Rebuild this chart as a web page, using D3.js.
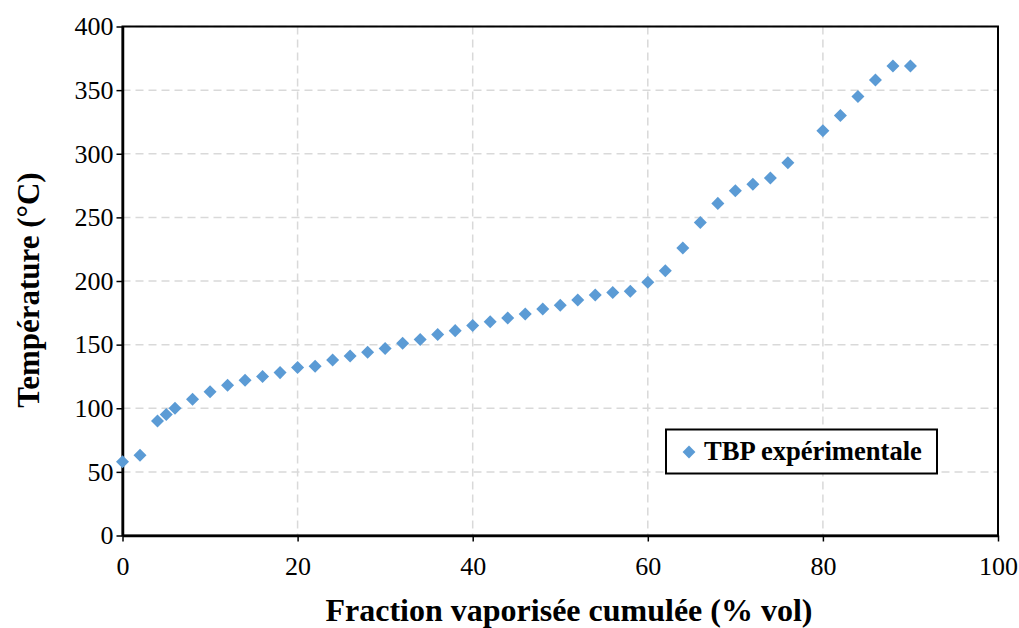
<!DOCTYPE html>
<html><head><meta charset="utf-8">
<script src="https://cdn.jsdelivr.net/npm/d3@7"></script>
<style>body{margin:0;background:#fff}</style>
</head><body>
<svg id="c" width="1019" height="628"></svg>
<script>
const fraction = [0,2,4,5,6,8,10,12,14,16,18,20,22,24,26,28,30,32,34,36,38,40,42,44,46,48,50,52,54,56,58,60,62,64,66,68,70,72,74,76,80,82,84,86,88,90];
const temperature = [58,63,90,95,100,107,113,118,122,125,128,132,133,138,141,144,147,151,154,158,161,165,168,171,174,178,181,185,189,191,192,199,208,226,246,261,271,276,281,293,318,330,345,358,369,369];
const xTicks = [0,20,40,60,80,100];
const yTicks = [0,50,100,150,200,250,300,350,400];
const seriesName = "TBP expérimentale";

const svg = d3.select("#c");
const L=122.5, R=998, T=26.5, B=535.5;
const x = d3.scaleLinear().domain([0,100]).range([L,R]);
const y = d3.scaleLinear().domain([0,400]).range([B,T]);
const font = "'Liberation Serif','Times New Roman',serif";

// grid
svg.append("g").selectAll("line").data(yTicks.filter(d=>d>0)).join("line")
  .attr("x1",L).attr("x2",R).attr("y1",d=>y(d)).attr("y2",d=>y(d))
  .attr("stroke","#d9d9d9").attr("stroke-width",1.5).attr("stroke-dasharray","8,5");
svg.append("g").selectAll("line").data(xTicks.filter(d=>d>0&&d<100)).join("line")
  .attr("y1",T).attr("y2",B).attr("x1",d=>x(d)).attr("x2",d=>x(d))
  .attr("stroke","#d9d9d9").attr("stroke-width",1.5).attr("stroke-dasharray","8,5");

// border
svg.append("rect").attr("x",L).attr("y",T).attr("width",R-L).attr("height",B-T)
  .attr("fill","none").attr("stroke","#000").attr("stroke-width",2);

// axes
const xAxis = svg.append("g").attr("transform",`translate(0,${B})`)
  .call(d3.axisBottom(x).tickValues(xTicks).tickSize(6).tickSizeOuter(0).tickPadding(15));
const yAxis = svg.append("g").attr("transform",`translate(${L},0)`)
  .call(d3.axisLeft(y).tickValues(yTicks).tickSize(6).tickSizeOuter(0).tickPadding(3));
[xAxis,yAxis].forEach(a=>{
  a.attr("font-family",font).attr("font-size",26);
  a.select(".domain").attr("stroke","#000").attr("stroke-width",2.5);
  a.selectAll(".tick line").attr("stroke","#000").attr("stroke-width",1.5);
  a.selectAll("text").attr("font-family",font).attr("font-size",26).attr("fill","#000");
});

// points
const sym = d3.symbol().type(d3.symbolDiamond2).size(108);
svg.append("g").selectAll("path").data(fraction).join("path")
  .attr("d",sym)
  .attr("transform",(d,i)=>`translate(${x(d)},${y(temperature[i])})`)
  .attr("fill","#5b9bd5");

// legend
svg.append("rect").attr("x",666).attr("y",429.5).attr("width",271).attr("height",44)
  .attr("fill","#fff").attr("stroke","#000").attr("stroke-width",2);
svg.append("path").attr("d",d3.symbol().type(d3.symbolDiamond2).size(105))
  .attr("transform","translate(689,452)").attr("fill","#5b9bd5");
svg.append("text").attr("x",704).attr("y",460).text(seriesName)
  .attr("font-family",font).attr("font-size",26.6).attr("font-weight","bold");

// axis titles
svg.append("text").attr("x",569).attr("y",621).attr("text-anchor","middle")
  .text("Fraction vaporisée cumulée (% vol)")
  .attr("font-family",font).attr("font-size",32).attr("font-weight","bold");
svg.append("text").attr("transform","translate(39,290) rotate(-90)").attr("text-anchor","middle")
  .text("Température (°C)")
  .attr("font-family",font).attr("font-size",31).attr("font-weight","bold");
</script>
</body></html>
